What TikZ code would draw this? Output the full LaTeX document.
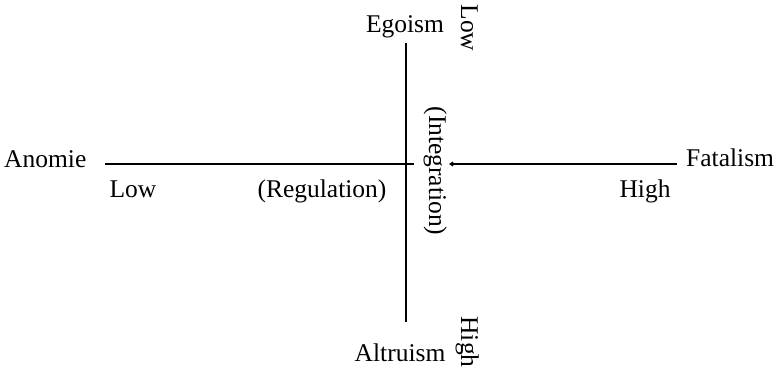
\documentclass[tikz,border=0pt]{standalone}
\usepackage{fontspec}
\setmainfont{Liberation Serif}
\usetikzlibrary{arrows.meta}
\begin{document}
\begin{tikzpicture}[x=1pt,y=-1pt,
  lbl/.style={inner sep=0pt,font=\fontsize{25.5}{30}\selectfont},
  axis/.style={line width=1.2pt}]
\useasboundingbox (0,0) rectangle (781,369);
\node[lbl,anchor=base] (egoism) at (405,33) {Egoism};
\node[lbl,anchor=base,rotate=-90] (low2) at (461,28) {Low};
\node[lbl,anchor=base] (altruism) at (400,361) {Altruism};
\node[lbl,anchor=base,rotate=-90] (high2) at (461,342) {High};
\node[lbl,anchor=base,rotate=-90] (integ) at (429,171) {(Integration)};
\node[lbl,anchor=base west] (anomie) at (4,167) {Anomie};
\node[lbl,anchor=base west] (fatalism) at (686,166) {Fatalism};
\node[lbl,anchor=base] (low1) at (133,197) {Low};
\node[lbl,anchor=base] (regul) at (322,197) {(Regulation)};
\node[lbl,anchor=base] (high1) at (645,197) {High};
\coordinate (vtop) at (406,43);
\coordinate (vbot) at (406,322);
\coordinate (hleft) at (105,164);
\coordinate (hmid) at (414,164);
\coordinate (hright) at (677,164);
\coordinate (harr) at (449,164);
\draw[axis] (vtop) -- (vbot);
\draw[axis] (hleft) -- (hmid);
\draw[axis,{Straight Barb[length=3pt,width=4pt]}-] (harr) -- (hright);
\end{tikzpicture}
\end{document}
